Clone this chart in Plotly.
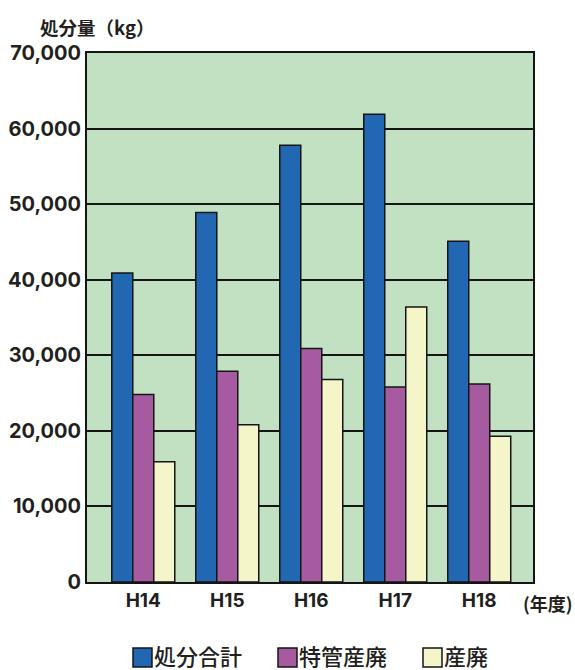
import plotly.graph_objects as go

# Fiscal years and disposal amounts (kg)
years = ["H14", "H15", "H16", "H17", "H18"]
total_kg = [40900, 48900, 57800, 61900, 45100]      # 処分合計
tokkan_kg = [24800, 27900, 30900, 25800, 26200]     # 特管産廃
sanpai_kg = [15900, 20800, 26800, 36400, 19300]     # 産廃

series_names = ["処分合計", "特管産廃", "産廃"]
series_values = [total_kg, tokkan_kg, sanpai_kg]
series_colors = ["#2167b1", "#a65ba1", "#f4f5c8"]

y_ticks = [0, 10000, 20000, 30000, 40000, 50000, 60000, 70000]
y_ticktext = ["0", "10,000", "20,000", "30,000", "40,000", "50,000", "60,000", "70,000"]

INK = "#231f20"
LATIN = "Inter, Liberation Sans, Arial, Noto Sans CJK JP"
CJK = "Noto Sans CJK JP, Liberation Sans"

W, H = 575, 670
M_L, M_R, M_T, M_B = 87, 42, 53, 88
PLOT_W = W - M_L - M_R
PLOT_H = H - M_T - M_B


def px_x(px):
    return (px - M_L) / PLOT_W


def px_y(py):
    return (H - M_B - py) / PLOT_H


x_pos = list(range(len(years)))

fig = go.Figure()
for name, vals, col in zip(series_names, series_values, series_colors):
    fig.add_trace(go.Bar(
        x=x_pos, y=vals, name=name, showlegend=False,
        marker=dict(color=col, line=dict(color="#151515", width=1.5)),
    ))

fig.update_layout(
    width=W, height=H,
    margin=dict(l=M_L, r=M_R, t=M_T, b=M_B, autoexpand=False),
    paper_bgcolor="white",
    plot_bgcolor="#c2e0c2",
    barmode="group",
    bargap=0.25,
    bargroupgap=0,
    font=dict(family=LATIN, color=INK),
)

fig.update_xaxes(
    range=[-0.67, 4.64], automargin=False,
    tickmode="array", tickvals=x_pos, ticktext=years,
    tickfont=dict(family=LATIN, size=19, weight="bold", color=INK),
    showgrid=False, zeroline=False,
    showline=True, mirror=True, linecolor="#151515", linewidth=2,
    ticks="", ticklabelstandoff=0,
)
fig.update_yaxes(
    range=[0, 70000], automargin=False,
    tickmode="array", tickvals=y_ticks, ticktext=y_ticktext,
    tickfont=dict(family=LATIN, size=20, weight="bold", color=INK),
    showgrid=True, gridcolor="#151515", gridwidth=1.5,
    zeroline=False,
    showline=True, mirror=True, linecolor="#151515", linewidth=2,
    ticks="", ticklabelstandoff=0,
)

# Axis unit labels
fig.add_annotation(
    text="処分量（kg）", xref="paper", yref="paper",
    x=px_x(38), y=px_y(27), xanchor="left", yanchor="middle",
    showarrow=False, font=dict(family=CJK, size=18.5, weight="bold", color=INK),
)
fig.add_annotation(
    text="(年度)", xref="paper", yref="paper",
    x=px_x(522), y=px_y(603), xanchor="left", yanchor="middle",
    borderpad=0,
    showarrow=False, font=dict(family=CJK, size=18, weight="bold", color=INK),
)

# Legend row below the chart
legend_left = [133, 278, 423]
sq = 19
cy_box = 657.5
cy_text = 655.5
for name, col, lx in zip(series_names, series_colors, legend_left):
    fig.add_shape(
        type="rect", xref="paper", yref="paper",
        x0=px_x(lx), x1=px_x(lx + sq), y0=px_y(cy_box - sq / 2), y1=px_y(cy_box + sq / 2),
        fillcolor=col, line=dict(color="#151515", width=1.5),
    )
    fig.add_annotation(
        text=name, xref="paper", yref="paper",
        x=px_x(lx + sq + 1), y=px_y(cy_text), xanchor="left", yanchor="middle",
        borderpad=0,
        showarrow=False, font=dict(family=CJK, size=22, weight=500, color=INK),
    )

fig.write_html("out.html")
